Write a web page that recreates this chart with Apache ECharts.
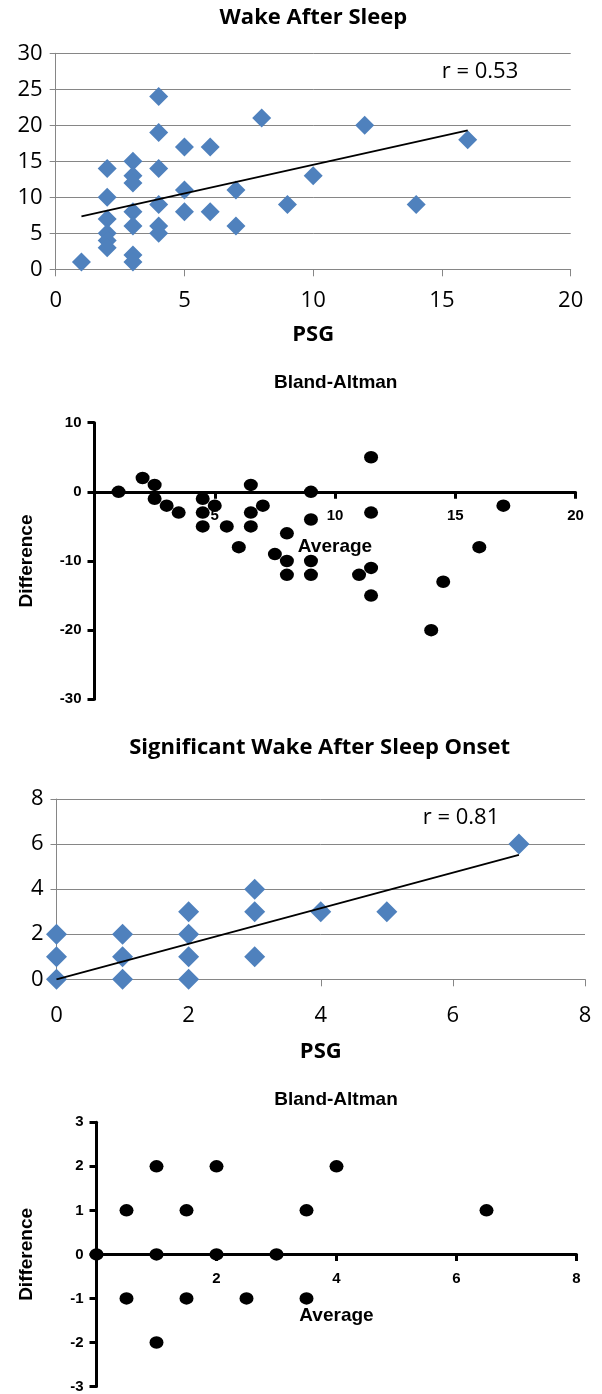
<!DOCTYPE html>
<html>
<head>
<meta charset="utf-8">
<script src="https://cdn.jsdelivr.net/npm/echarts@6/dist/echarts.min.js"></script>
<style>
  html, body { margin: 0; padding: 0; background: #fff; }
  #main { width: 602px; height: 1394px; }
</style>
</head>
<body>
<div id="main"></div>
<script>
// Wake After Sleep: PSG vs device
const wasoPsg    = [1, 2, 2, 2, 2, 2, 2, 3, 3, 3, 3, 3, 3, 3, 4, 4, 4, 4, 4, 4, 5, 5, 5, 6, 6, 7, 7, 8, 9, 10, 12, 14, 16];
const wasoDevice = [1, 14, 10, 7, 5, 4, 3, 15, 13, 12, 8, 6, 2, 1, 24, 19, 14, 9, 6, 5, 17, 11, 8, 17, 8, 11, 6, 21, 9, 13, 20, 9, 18];
const wasoTrendX = [1, 16];
const wasoTrendY = [7.35, 19.3];
const wasoR = 'r = 0.53';

// Bland-Altman for Wake After Sleep
const baWasoAvg  = [1, 2, 2.5, 2.5, 3, 3.5, 4.5, 4.5, 4.5, 5, 5.5, 6, 6.5, 6.5, 6.5, 7, 7.5, 8, 8, 8, 9, 9, 9, 9, 11, 11.5, 11.5, 11.5, 11.5, 14, 14.5, 16, 17];
const baWasoDiff = [0, 2, 1, -1, -2, -3, -1, -3, -5, -2, -5, -8, 1, -3, -5, -2, -9, -6, -10, -12, 0, -4, -10, -12, -12, 5, -3, -11, -15, -20, -13, -8, -2];

// Significant Wake After Sleep Onset: PSG vs device
const swasoPsg    = [0, 0, 0, 1, 1, 1, 2, 2, 2, 2, 3, 3, 3, 4, 5, 7];
const swasoDevice = [2, 1, 0, 2, 1, 0, 3, 2, 1, 0, 4, 3, 1, 3, 3, 6];
const swasoTrendX = [0, 7];
const swasoTrendY = [0, 5.52];
const swasoR = 'r = 0.81';

// Bland-Altman for Significant WASO
const baSwasoAvg  = [0, 0.5, 0.5, 1, 1, 1, 1.5, 1.5, 2, 2, 2.5, 3, 3.5, 3.5, 4, 6.5];
const baSwasoDiff = [0, 1, -1, 2, 0, -2, 1, -1, 2, 0, -1, 0, 1, -1, 2, 1];

const titles = ['Wake After Sleep', 'Bland-Altman', 'Significant Wake After Sleep Onset', 'Bland-Altman'];

const zip = (a, b) => a.map((v, i) => [v, b[i]]);

const XL_FONT = '"Open Sans", "Noto Sans", sans-serif';
const BA_FONT = '"Liberation Sans", Arial, sans-serif';
const GRAY = '#868686';

function excelX(grid, max, interval, nameGap, labelMargin) {
    return {
        type: 'value', gridIndex: grid, min: 0, max: max, interval: interval,
        name: 'PSG', nameLocation: 'middle', nameGap: nameGap,
        nameTextStyle: { fontFamily: XL_FONT, fontSize: 22, fontWeight: 'bold', color: '#000' },
        axisLine: { show: true, onZero: false, lineStyle: { color: GRAY, width: 1 } },
        axisTick: { show: true, length: 7, lineStyle: { color: GRAY, width: 1 } },
        axisLabel: { margin: labelMargin, fontFamily: XL_FONT, fontSize: 22, color: '#000' },
        splitLine: { show: false }
    };
}

function excelY(grid, max, interval) {
    return {
        type: 'value', gridIndex: grid, min: 0, max: max, interval: interval,
        axisLine: { show: true, onZero: false, lineStyle: { color: GRAY, width: 1 } },
        axisTick: { show: true, length: 6, lineStyle: { color: GRAY, width: 1 } },
        axisLabel: { margin: 13, fontFamily: XL_FONT, fontSize: 22, color: '#000' },
        splitLine: { show: true, lineStyle: { color: GRAY, width: 1 } }
    };
}

// the zero line sits inside the grid, so the x axis is lifted there with a negative offset
function baX(grid, max, interval, nameGap, zeroOffset) {
    return {
        type: 'value', gridIndex: grid, min: 0, max: max, interval: interval,
        offset: zeroOffset,
        name: 'Average', nameLocation: 'middle', nameGap: nameGap,
        nameTextStyle: { fontFamily: BA_FONT, fontSize: 19, fontWeight: 'bold', color: '#000' },
        axisLine: { show: true, onZero: false, lineStyle: { color: '#000', width: 3 } },
        axisTick: { show: true, length: 7, lineStyle: { color: '#000', width: 3 } },
        axisLabel: { margin: 17, showMinLabel: false, fontFamily: BA_FONT, fontSize: 15, fontWeight: 'bold', color: '#000' },
        splitLine: { show: false }
    };
}

function baY(grid, min, max, interval, nameGap) {
    return {
        type: 'value', gridIndex: grid, min: min, max: max, interval: interval,
        name: 'Difference', nameLocation: 'middle', nameGap: nameGap,
        nameTextStyle: { fontFamily: BA_FONT, fontSize: 19, fontWeight: 'bold', color: '#000' },
        axisLine: { show: true, onZero: false, lineStyle: { color: '#000', width: 3 } },
        axisTick: { show: true, length: 7, lineStyle: { color: '#000', width: 3 } },
        axisLabel: { margin: 13, fontFamily: BA_FONT, fontSize: 15, fontWeight: 'bold', color: '#000' },
        splitLine: { show: false }
    };
}

function textEl(text, x, y, font, align) {
    return {
        type: 'text', x: x, y: y,
        style: { text: text, font: font, fill: '#000', align: align, verticalAlign: 'middle', textAlign: align, textVerticalAlign: 'middle' }
    };
}

const chart = echarts.init(document.getElementById('main'), null, { renderer: 'canvas' });

const option = {
    backgroundColor: '#fff',
    animation: false,
    grid: [
        { left: 55.7, top: 53.3, width: 515, height: 216 },
        { left: 94.5, top: 422.7, width: 481, height: 276.6 },
        { left: 56.5, top: 799, width: 528.5, height: 180.3 },
        { left: 96.5, top: 1122.3, width: 480, height: 265 }
    ],
    xAxis: [
        excelX(0, 20, 5, 54, 20),
        baX(1, 20, 5, 45, -207.5),
        excelX(2, 8, 2, 61, 25),
        baX(3, 8, 2, 52, -132.5)
    ],
    yAxis: [
        excelY(0, 30, 5),
        baY(1, -30, 10, 10, 58),
        excelY(2, 8, 2),
        baY(3, -3, 3, 1, 60)
    ],
    graphic: [
        textEl(titles[0], 313.4, 18, 'bold 22px ' + XL_FONT, 'center'),
        textEl(wasoR, 441.7, 72, '22px ' + XL_FONT, 'left'),
        textEl(titles[1], 335.7, 383, 'bold 19px ' + BA_FONT, 'center'),
        textEl(titles[2], 319.6, 748, 'bold 22px ' + XL_FONT, 'center'),
        textEl(swasoR, 422.7, 818, '22px ' + XL_FONT, 'left'),
        textEl(titles[3], 336, 1100, 'bold 19px ' + BA_FONT, 'center')
    ],
    series: [
        {
            type: 'scatter', xAxisIndex: 0, yAxisIndex: 0,
            symbol: 'diamond', symbolSize: 19,
            itemStyle: { color: '#4f81bd', opacity: 1 },
            data: zip(wasoPsg, wasoDevice), z: 2
        },
        {
            type: 'line', xAxisIndex: 0, yAxisIndex: 0,
            showSymbol: false, symbol: 'none',
            lineStyle: { color: '#000', width: 1.8 },
            data: zip(wasoTrendX, wasoTrendY), z: 3
        },
        {
            type: 'scatter', xAxisIndex: 1, yAxisIndex: 1,
            symbol: 'circle', symbolSize: [14, 12.5],
            itemStyle: { color: '#000', opacity: 1 },
            data: zip(baWasoAvg, baWasoDiff), z: 3
        },
        {
            type: 'scatter', xAxisIndex: 2, yAxisIndex: 2,
            symbol: 'diamond', symbolSize: 21,
            itemStyle: { color: '#4f81bd', opacity: 1 },
            data: zip(swasoPsg, swasoDevice), z: 2
        },
        {
            type: 'line', xAxisIndex: 2, yAxisIndex: 2,
            showSymbol: false, symbol: 'none',
            lineStyle: { color: '#000', width: 1.8 },
            data: zip(swasoTrendX, swasoTrendY), z: 3
        },
        {
            type: 'scatter', xAxisIndex: 3, yAxisIndex: 3,
            symbol: 'circle', symbolSize: [14, 12.5],
            itemStyle: { color: '#000', opacity: 1 },
            data: zip(baSwasoAvg, baSwasoDiff), z: 3
        }
    ]
};

chart.setOption(option);
</script>
</body>
</html>
